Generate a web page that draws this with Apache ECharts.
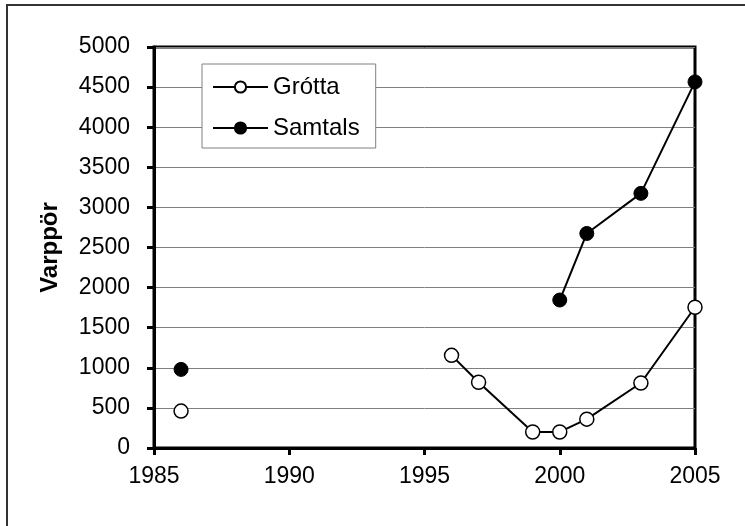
<!DOCTYPE html>
<html>
<head>
<meta charset="utf-8">
<script src="https://cdn.jsdelivr.net/npm/echarts@6/dist/echarts.min.js"></script>
<style>
  html, body { margin: 0; padding: 0; background: #fff; overflow: hidden; }
  #frame {
    position: absolute; left: 6px; top: 4px; width: 800px; height: 600px;
    border: 2px solid #333; box-sizing: border-box;
  }
  #chart { position: absolute; left: 0; top: 0; width: 745px; height: 526px; }
</style>
</head>
<body>
<div id="frame"></div>
<div id="chart"></div>
<script>
// Grótta
const grottaYears = [1986, 1996, 1997, 1999, 2000, 2001, 2003, 2005];
const grottaValues = [460, 1155, 820, 200, 200, 360, 810, 1755];
// Samtals
const samtalsYears = [1986, 2000, 2001, 2003, 2005];
const samtalsValues = [980, 1845, 2675, 3175, 4565];

const yTitle = 'Varppör';

// long gaps in the record are left unconnected
const toPairs = (years, values) => {
    const out = [];
    years.forEach((y, i) => {
        if (i > 0 && y - years[i - 1] > 3) out.push([y, '-']);
        out.push([y, values[i]]);
    });
    return out;
};

const chart = echarts.init(document.getElementById('chart'));

const font = 'Liberation Sans, Arial, sans-serif';

chart.setOption({
    animation: false,
    grid: {
        left: 154, top: 47, right: 50, bottom: 78,
        show: true, borderColor: '#000', borderWidth: 3
    },
    legend: {
        orient: 'vertical',
        left: 202, top: 64,
        padding: [11, 16, 8, 10],
        backgroundColor: '#fff',
        borderColor: '#808080',
        borderWidth: 1,
        borderRadius: 0,
        itemWidth: 55,
        itemHeight: 14,
        itemGap: 17,
        textStyle: { fontFamily: font, fontSize: 24, color: '#000' },
        data: ['Grótta', 'Samtals']
    },
    xAxis: {
        type: 'value',
        min: 1985, max: 2005, interval: 5,
        axisLine: { lineStyle: { color: '#000', width: 3 } },
        axisTick: { show: true, length: 7, lineStyle: { color: '#000', width: 3 } },
        axisLabel: { fontFamily: font, fontSize: 23, color: '#000', margin: 17, formatter: v => String(v) },
        splitLine: { show: false }
    },
    yAxis: {
        type: 'value',
        min: 0, max: 5000, interval: 500,
        name: yTitle,
        nameLocation: 'middle',
        nameGap: 92,
        nameTextStyle: { fontFamily: font, fontSize: 24, fontWeight: 'bold', color: '#000' },
        axisLine: { show: true, lineStyle: { color: '#000', width: 3 } },
        axisTick: { show: true, length: 7, lineStyle: { color: '#000', width: 3 } },
        axisLabel: { fontFamily: font, fontSize: 23, color: '#000', margin: 24, formatter: v => String(v) },
        splitLine: { lineStyle: { color: '#808080', width: 1 } }
    },
    series: [
        {
            name: 'Grótta',
            type: 'line',
            data: toPairs(grottaYears, grottaValues),
            connectNulls: false,
            symbol: 'circle',
            symbolSize: 14,
            showAllSymbol: true,
            lineStyle: { color: '#000', width: 2 },
            itemStyle: { color: '#fff', borderColor: '#000', borderWidth: 1.5 },
            z: 3
        },
        {
            name: 'Samtals',
            type: 'line',
            data: toPairs(samtalsYears, samtalsValues),
            connectNulls: false,
            symbol: 'circle',
            symbolSize: 14,
            showAllSymbol: true,
            lineStyle: { color: '#000', width: 2 },
            itemStyle: { color: '#000', borderColor: '#000', borderWidth: 1 },
            z: 3
        }
    ]
});
</script>
</body>
</html>
